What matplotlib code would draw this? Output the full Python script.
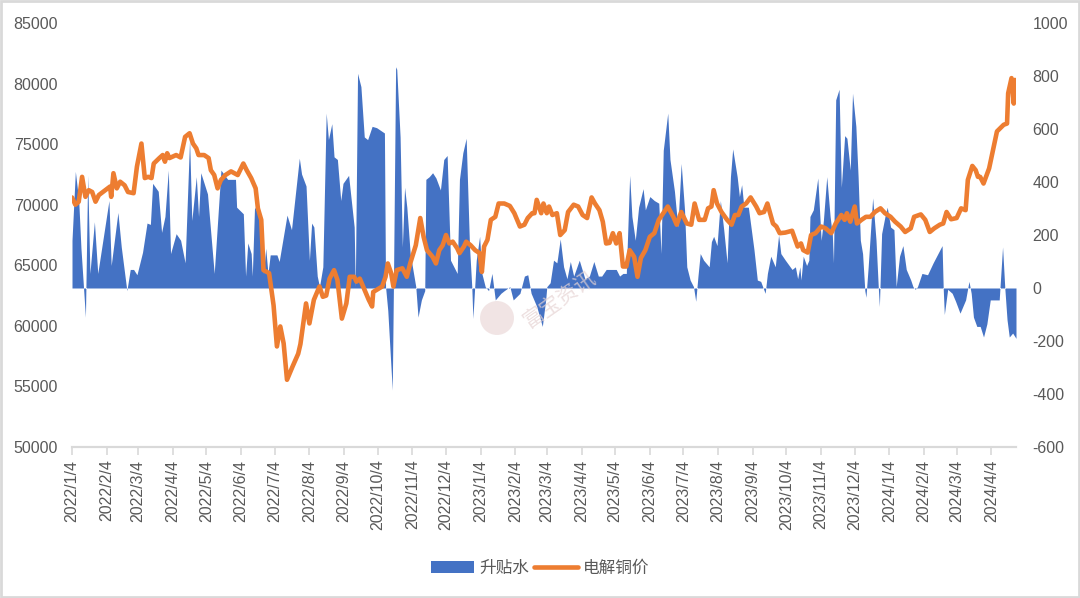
import matplotlib
matplotlib.use('Agg')
import matplotlib.pyplot as plt
import matplotlib.dates as mdates
import matplotlib.patches as patches
import pandas as pd

plt.rcParams['font.family'] = ['Liberation Sans', 'Noto Sans CJK SC', 'DejaVu Sans']
plt.rcParams['axes.unicode_minus'] = False

# 升贴水 (right axis)
basis_dates = [
    '2022-01-04', '2022-01-07', '2022-01-10', '2022-01-12', '2022-01-16', '2022-01-18', '2022-01-20',
    '2022-01-24', '2022-01-27', '2022-02-06', '2022-02-08', '2022-02-14', '2022-02-17', '2022-02-22',
    '2022-02-25', '2022-02-28', '2022-03-03', '2022-03-08', '2022-03-12', '2022-03-15', '2022-03-17',
    '2022-03-22', '2022-03-25', '2022-03-28', '2022-03-31', '2022-04-02', '2022-04-07', '2022-04-11',
    '2022-04-15', '2022-04-19', '2022-04-21', '2022-04-25', '2022-04-27', '2022-04-29', '2022-05-05',
    '2022-05-11', '2022-05-17', '2022-05-23', '2022-05-30', '2022-05-31', '2022-06-06', '2022-06-08',
    '2022-06-10', '2022-06-13', '2022-06-14', '2022-06-16', '2022-06-21', '2022-06-24', '2022-06-26',
    '2022-06-28', '2022-06-30', '2022-07-06', '2022-07-08', '2022-07-15', '2022-07-19', '2022-07-26',
    '2022-07-28', '2022-08-01', '2022-08-04', '2022-08-06', '2022-08-08', '2022-08-11', '2022-08-13',
    '2022-08-16', '2022-08-19', '2022-08-21', '2022-08-24', '2022-08-26', '2022-08-29', '2022-09-01',
    '2022-09-03', '2022-09-08', '2022-09-13', '2022-09-14', '2022-09-16', '2022-09-19', '2022-09-22',
    '2022-09-25', '2022-09-29', '2022-10-03', '2022-10-10', '2022-10-11', '2022-10-13', '2022-10-17',
    '2022-10-18', '2022-10-20', '2022-10-21', '2022-10-24', '2022-10-26', '2022-10-28', '2022-10-30',
    '2022-11-02', '2022-11-07', '2022-11-09', '2022-11-12', '2022-11-15', '2022-11-16', '2022-11-19',
    '2022-11-22', '2022-11-25', '2022-11-29', '2022-12-02', '2022-12-05', '2022-12-08', '2022-12-14',
    '2022-12-16', '2022-12-19', '2022-12-22', '2022-12-25', '2022-12-27', '2022-12-28', '2022-12-31',
    '2023-01-03', '2023-01-05', '2023-01-08', '2023-01-11', '2023-01-14', '2023-01-17', '2023-01-22',
    '2023-01-25', '2023-01-30', '2023-02-02', '2023-02-08', '2023-02-12', '2023-02-15', '2023-02-18',
    '2023-02-23', '2023-02-28', '2023-03-03', '2023-03-04', '2023-03-07', '2023-03-10', '2023-03-13',
    '2023-03-16', '2023-03-19', '2023-03-22', '2023-03-25', '2023-03-28', '2023-04-02', '2023-04-07',
    '2023-04-11', '2023-04-15', '2023-04-19', '2023-04-22', '2023-04-26', '2023-04-30', '2023-05-05',
    '2023-05-08', '2023-05-11', '2023-05-14', '2023-05-17', '2023-05-19', '2023-05-22', '2023-05-25',
    '2023-05-29', '2023-05-31', '2023-06-04', '2023-06-08', '2023-06-12', '2023-06-14', '2023-06-16',
    '2023-06-20', '2023-06-22', '2023-06-26', '2023-06-29', '2023-07-02', '2023-07-05', '2023-07-07',
    '2023-07-10', '2023-07-13', '2023-07-15', '2023-07-17', '2023-07-19', '2023-07-22', '2023-07-27',
    '2023-07-29', '2023-07-31', '2023-08-03', '2023-08-06', '2023-08-09', '2023-08-12', '2023-08-15',
    '2023-08-17', '2023-08-21', '2023-08-23', '2023-08-25', '2023-08-27', '2023-08-31', '2023-09-05',
    '2023-09-08', '2023-09-11', '2023-09-15', '2023-09-17', '2023-09-20', '2023-09-24', '2023-09-27',
    '2023-09-29', '2023-10-03', '2023-10-09', '2023-10-12', '2023-10-14', '2023-10-16', '2023-10-17',
    '2023-10-19', '2023-10-22', '2023-10-24', '2023-10-25', '2023-10-28', '2023-11-01', '2023-11-04',
    '2023-11-06', '2023-11-09', '2023-11-12', '2023-11-14', '2023-11-15', '2023-11-17', '2023-11-20',
    '2023-11-22', '2023-11-25', '2023-11-27', '2023-11-30', '2023-12-02', '2023-12-05', '2023-12-07',
    '2023-12-09', '2023-12-11', '2023-12-13', '2023-12-14', '2023-12-16', '2023-12-20', '2023-12-23',
    '2023-12-25', '2023-12-26', '2023-12-28', '2023-12-31', '2024-01-02', '2024-01-05', '2024-01-08',
    '2024-01-10', '2024-01-13', '2024-01-16', '2024-01-19', '2024-01-23', '2024-01-25', '2024-01-27',
    '2024-01-29', '2024-02-02', '2024-02-07', '2024-02-12', '2024-02-20', '2024-02-21', '2024-02-22',
    '2024-02-25', '2024-02-29', '2024-03-03', '2024-03-07', '2024-03-12', '2024-03-15', '2024-03-17',
    '2024-03-19', '2024-03-22', '2024-03-25', '2024-03-28', '2024-03-31', '2024-04-03', '2024-04-07',
    '2024-04-11', '2024-04-14', '2024-04-16', '2024-04-18', '2024-04-20', '2024-04-23', '2024-04-26',
]
basis_values = [
    180, 440, 330, 150, -110, 425, 55,
    250, 55, 330, 85, 285, 155, -10,
    70, 70, 50, 135, 245, 240, 395,
    365, 210, 270, 445, 130, 205, 180,
    95, 560, 255, 420, 270, 435, 355,
    55, 445, 410, 410, 305, 280, 45,
    170, 130, 45, 305, 270, 55, 150,
    55, 125, 125, 100, 275, 220, 490,
    430, 385, 105, 245, 230, 45, 5,
    80, 660, 560, 620, 495, 485, 330,
    395, 425, 230, 5, 810, 760, 570,
    560, 610, 605, 585, 5, -85, -385,
    -10, 835, 825, 570, 155, 380, 305,
    130, 5, -110, -45, -10, 410, 420,
    435, 415, 370, 485, 500, 105, 55,
    410, 510, 565, 155, 5, -115, 105,
    195, 55, 5, -10, 55, -45, -20,
    -10, 5, -45, -20, 45, 50, -20,
    -70, -145, -45, 5, 20, 105, 95,
    185, 80, 35, 100, 45, 105, 35,
    45, 100, 45, 45, 70, 70, 70,
    45, 55, 55, 425, 270, 180, 305,
    375, 295, 345, 330, 320, 130, 520,
    660, 485, 365, 230, 470, 295, 80,
    30, 5, -50, 45, 130, 105, 80,
    175, 195, 160, 330, 220, 95, 420,
    525, 420, 345, 390, 305, 305, 145,
    30, 25, -20, 55, 120, 80, 200,
    130, 105, 70, 80, 35, 80, 30,
    120, 85, 105, 270, 295, 415, 180,
    255, 420, 270, 200, 95, 710, 750,
    380, 575, 565, 445, 735, 610, 420,
    180, 130, -10, -35, 80, 340, 180,
    5, -70, 205, 270, 305, 230, 220,
    5, 120, 160, 70, 30, 5, -5,
    5, 55, 50, 95, 160, 0, -100,
    -5, -20, -50, -95, -45, 25, -20,
    -110, -145, -145, -185, -135, -45, -45,
    -45, 155, 0, -120, -185, -170, -190,
]

# 电解铜价 (left axis)
price_dates = [
    '2022-01-04', '2022-01-07', '2022-01-10', '2022-01-13', '2022-01-16', '2022-01-19', '2022-01-22',
    '2022-01-25', '2022-01-28', '2022-02-07', '2022-02-08', '2022-02-10', '2022-02-13', '2022-02-16',
    '2022-02-20', '2022-02-23', '2022-02-28', '2022-03-03', '2022-03-07', '2022-03-10', '2022-03-13',
    '2022-03-16', '2022-03-18', '2022-03-23', '2022-03-26', '2022-03-28', '2022-03-30', '2022-04-01',
    '2022-04-07', '2022-04-11', '2022-04-15', '2022-04-19', '2022-04-22', '2022-04-25', '2022-04-27',
    '2022-05-02', '2022-05-06', '2022-05-08', '2022-05-11', '2022-05-14', '2022-05-17', '2022-05-21',
    '2022-05-26', '2022-05-29', '2022-06-01', '2022-06-06', '2022-06-09', '2022-06-13', '2022-06-17',
    '2022-06-19', '2022-06-22', '2022-06-23', '2022-06-24', '2022-06-29', '2022-07-03', '2022-07-06',
    '2022-07-09', '2022-07-12', '2022-07-15', '2022-07-20', '2022-07-25', '2022-07-27', '2022-08-01',
    '2022-08-04', '2022-08-08', '2022-08-13', '2022-08-16', '2022-08-19', '2022-08-22', '2022-08-26',
    '2022-08-29', '2022-09-02', '2022-09-06', '2022-09-09', '2022-09-13', '2022-09-15', '2022-09-18',
    '2022-09-21', '2022-09-26', '2022-09-29', '2022-09-30', '2022-10-08', '2022-10-11', '2022-10-13',
    '2022-10-16', '2022-10-18', '2022-10-21', '2022-10-26', '2022-10-30', '2022-11-02', '2022-11-07',
    '2022-11-11', '2022-11-14', '2022-11-17', '2022-11-22', '2022-11-25', '2022-11-28', '2022-12-01',
    '2022-12-04', '2022-12-07', '2022-12-10', '2022-12-14', '2022-12-16', '2022-12-20', '2022-12-22',
    '2022-12-26', '2022-12-30', '2023-01-03', '2023-01-05', '2023-01-07', '2023-01-10', '2023-01-13',
    '2023-01-17', '2023-01-20', '2023-01-25', '2023-01-30', '2023-02-03', '2023-02-08', '2023-02-12',
    '2023-02-15', '2023-02-19', '2023-02-21', '2023-02-23', '2023-02-27', '2023-03-01', '2023-03-04',
    '2023-03-06', '2023-03-09', '2023-03-13', '2023-03-16', '2023-03-20', '2023-03-23', '2023-03-28',
    '2023-04-01', '2023-04-05', '2023-04-09', '2023-04-13', '2023-04-16', '2023-04-20', '2023-04-23',
    '2023-04-26', '2023-04-29', '2023-05-02', '2023-05-05', '2023-05-08', '2023-05-11', '2023-05-14',
    '2023-05-17', '2023-05-21', '2023-05-24', '2023-05-27', '2023-05-31', '2023-06-04', '2023-06-08',
    '2023-06-12', '2023-06-16', '2023-06-20', '2023-06-25', '2023-06-28', '2023-07-02', '2023-07-07',
    '2023-07-11', '2023-07-14', '2023-07-18', '2023-07-23', '2023-07-26', '2023-07-29', '2023-07-31',
    '2023-08-03', '2023-08-07', '2023-08-12', '2023-08-16', '2023-08-19', '2023-08-22', '2023-08-25',
    '2023-08-29', '2023-09-02', '2023-09-07', '2023-09-10', '2023-09-14', '2023-09-17', '2023-09-22',
    '2023-09-25', '2023-09-28', '2023-10-03', '2023-10-09', '2023-10-14', '2023-10-17', '2023-10-19',
    '2023-10-23', '2023-10-26', '2023-10-30', '2023-11-04', '2023-11-08', '2023-11-13', '2023-11-17',
    '2023-11-22', '2023-11-25', '2023-11-27', '2023-11-30', '2023-12-04', '2023-12-06', '2023-12-10',
    '2023-12-14', '2023-12-18', '2023-12-22', '2023-12-27', '2023-12-31', '2024-01-05', '2024-01-09',
    '2024-01-14', '2024-01-18', '2024-01-23', '2024-01-26', '2024-02-01', '2024-02-05', '2024-02-09',
    '2024-02-13', '2024-02-18', '2024-02-21', '2024-02-24', '2024-02-28', '2024-03-04', '2024-03-08',
    '2024-03-12', '2024-03-14', '2024-03-18', '2024-03-21', '2024-03-23', '2024-03-25', '2024-03-28',
    '2024-04-02', '2024-04-09', '2024-04-15', '2024-04-18', '2024-04-19', '2024-04-22', '2024-04-24',
    '2024-04-25', '2024-04-26',
]
price_values = [
    70600, 70000, 70250, 72300, 70650, 71200, 71050,
    70250, 70800, 71500, 70650, 72600, 71350, 71900,
    71600, 71050, 70950, 73150, 75050, 72200, 72300,
    72200, 73400, 73850, 74100, 73550, 74250, 73850,
    74100, 73900, 75600, 75900, 75050, 74650, 74100,
    74100, 73850, 72850, 72450, 71350, 72050, 72450,
    72750, 72600, 72450, 73400, 72850, 72200, 71350,
    69700, 68750, 66800, 64600, 64350, 61700, 58300,
    59950, 58550, 55550, 56650, 57700, 58500, 61850,
    60200, 62150, 63250, 62400, 62500, 63900, 64600,
    63800, 60600, 61850, 64050, 64050, 63650, 63900,
    63250, 62150, 61600, 62800, 63250, 64050, 65150,
    64350, 63250, 64600, 64750, 64050, 65150, 66650,
    68900, 67350, 66250, 65700, 65150, 66250, 66650,
    67500, 66800, 66950, 66400, 66000, 66550, 66950,
    66650, 66250, 66000, 64450, 66550, 67100, 68750,
    69000, 70100, 70100, 69900, 69300, 68200, 68350,
    68900, 69300, 69300, 70400, 69300, 70100, 69300,
    69850, 69150, 69300, 67500, 67900, 69400, 70000,
    69850, 69150, 68900, 70600, 70100, 69550, 68600,
    66800, 66850, 67650, 66800, 67650, 64900, 64900,
    66250, 65700, 64050, 65600, 66250, 67350, 67650,
    68750, 69300, 69850, 69000, 68350, 69400, 68450,
    68350, 70100, 68750, 68750, 69700, 69850, 71200,
    70100, 69400, 68750, 68350, 69150, 69150, 69850,
    70100, 70600, 69850, 69300, 69400, 70100, 68450,
    68200, 67650, 67700, 67850, 66550, 66800, 66250,
    66050, 67500, 67650, 68200, 68050, 67650, 68450,
    69150, 68750, 69300, 68600, 69850, 68450, 68750,
    69000, 69000, 69400, 69700, 69300, 69000, 68600,
    68200, 67750, 68050, 69000, 69200, 68750, 67750,
    68050, 68350, 68450, 69400, 68800, 68900, 69700,
    69550, 72050, 73200, 72850, 72300, 72300, 71750,
    73000, 76050, 76600, 76700, 79200, 80450, 78350,
    80300, 79900,
]

month_ticks = pd.date_range('2022-01-01', '2024-04-01', freq='MS') + pd.Timedelta(days=3)

blue = '#4472C4'
orange = '#ED7D31'
grey = '#595959'

bd = pd.to_datetime(basis_dates)
pdts = pd.to_datetime(price_dates)

fig = plt.figure(figsize=(10.8, 5.98), dpi=100)
ax = fig.add_axes([72 / 1080, 1 - 447 / 598, (1016 - 72) / 1080, (447 - 23) / 598])

# area on the primary axes (drawn under the line), its scale shown on the right
area = ax.fill_between(bd, 0, basis_values, color=blue, linewidth=0, label='升贴水')
ax.set_ylim(-600, 1000)
ax.set_yticks(range(-600, 1001, 200))

ax2 = ax.twinx()
line, = ax2.plot(pdts, price_values, color=orange, linewidth=3.3, solid_joinstyle='round',
                 solid_capstyle='round', label='电解铜价')
ax2.set_ylim(50000, 85000)
ax2.set_yticks(range(50000, 85001, 5000))

# swap sides: price on the left, premium on the right
ax.yaxis.tick_right()
ax.yaxis.set_label_position('right')
ax2.yaxis.tick_left()
ax2.yaxis.set_label_position('left')
ax.tick_params(axis='y', length=0, pad=12, labelsize=11.5, labelcolor=grey)
ax2.tick_params(axis='y', length=0, pad=10, labelsize=11.5, labelcolor=grey)

ax.set_xlim(pd.Timestamp('2022-01-04'), pd.Timestamp('2024-04-26'))
ax.set_xticks(month_ticks)
ax.xaxis.set_major_formatter(mdates.DateFormatter('%Y/%-m/%-d'))
ax.tick_params(axis='x', rotation=90, length=6, width=1.2, color='#D9D9D9', pad=3,
               labelsize=11.5, labelcolor=grey)

for a in (ax, ax2):
    for s in ('top', 'left', 'right'):
        a.spines[s].set_visible(False)
    a.spines['bottom'].set_color('#D9D9D9')
    a.spines['bottom'].set_linewidth(1.5)

# faint watermark
fig.patches.append(patches.Ellipse((497 / 1080, 1 - 318 / 598), 34 / 1080, 34 / 598,
                                   transform=fig.transFigure, facecolor='#E8D3D3',
                                   edgecolor='none', alpha=0.6, zorder=5))
fig.text(560 / 1080, 1 - 300 / 598, '富宝资讯', fontsize=15, color='#E6D3D3', alpha=0.7,
         rotation=35, ha='center', va='center', family=['Noto Sans CJK SC'])

fig.legend(handles=[area, line], loc='center', bbox_to_anchor=(540 / 1080, 1 - 568 / 598),
           ncol=2, frameon=False, labelcolor=grey, handlelength=2.6,
           handletextpad=0.3, columnspacing=0.3, prop={'family': ['Noto Sans CJK SC'], 'size': 12})

fig.patches.append(patches.Rectangle((0.001, 0.001), 0.998, 0.997, transform=fig.transFigure,
                                     fill=False, edgecolor='#D9D9D9', linewidth=2))

fig.savefig('out.png', dpi=100)
